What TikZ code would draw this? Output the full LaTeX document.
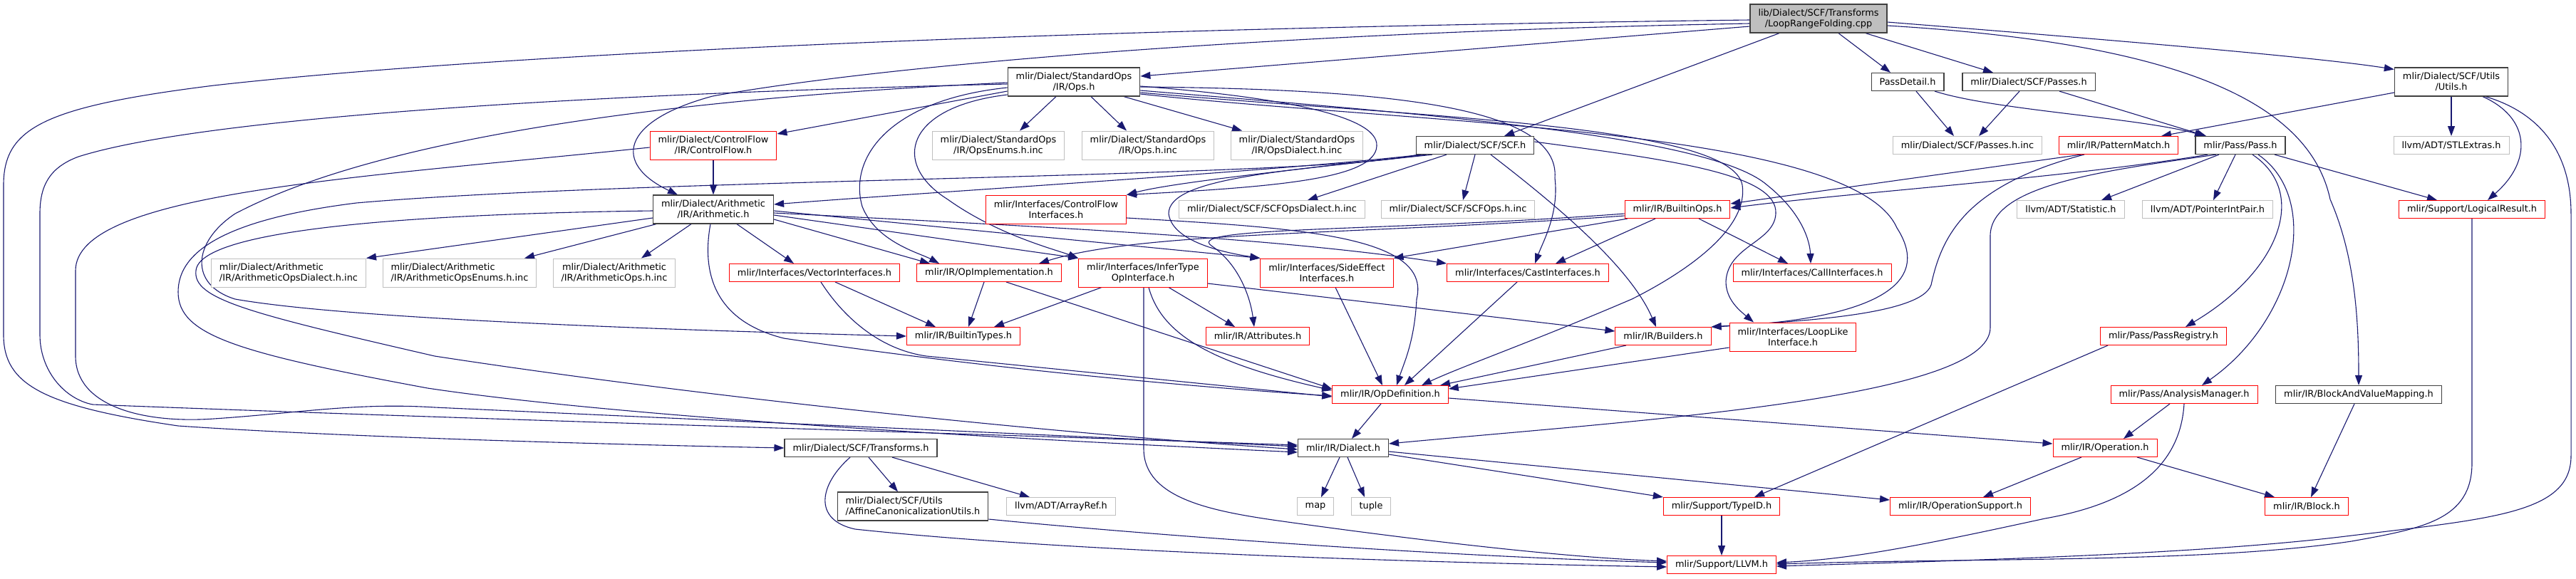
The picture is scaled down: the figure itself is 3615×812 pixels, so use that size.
\documentclass[tikz,border=0pt]{standalone}
\usepackage{fontspec}
\setmainfont{DejaVu Sans}
\usetikzlibrary{arrows.meta,backgrounds}
\definecolor{dgEdge}{HTML}{191970}
\definecolor{dgBorder}{HTML}{404040}
\definecolor{dgRed}{HTML}{FF0000}
\definecolor{dgGray}{HTML}{BFBFBF}
\newcommand{\dgfont}{\fontsize{12.9}{15}\selectfont}

\begin{document}
\begin{tikzpicture}[
    x=1pt, y=-1pt,
    box/.style={draw=dgBorder, line width=1.2pt, fill=white, inner xsep=11.5pt, inner ysep=2pt, minimum height=25pt, align=center, font=\dgfont},
    twoline/.style={minimum height=40pt},
    redbox/.style={box, draw=dgRed, line width=1pt},
    graybox/.style={box, draw=dgGray, line width=1pt},
    rootbox/.style={box, fill=dgGray},
    arrow/.style={-{Triangle[length=14pt, width=10pt]}, line width=1.1pt, dgEdge}
]
    \useasboundingbox (0,0) rectangle (3615,812);

    \node[rootbox, twoline] (lrf) at (2552,26) {lib/Dialect/SCF/Transforms\\/LoopRangeFolding.cpp};
    \node[box, twoline] (stdops) at (1507,115) {mlir/Dialect/StandardOps\\/IR/Ops.h};
    \node[box] (passdetail) at (2677,115) {PassDetail.h};
    \node[box] (scfpasses) at (2847,115) {mlir/Dialect/SCF/Passes.h};
    \node[box, twoline] (utils) at (3440,115) {mlir/Dialect/SCF/Utils\\/Utils.h};
    \node[redbox, twoline] (cflow) at (1001,204) {mlir/Dialect/ControlFlow\\/IR/ControlFlow.h};
    \node[graybox, twoline] (opsenums) at (1401,204) {mlir/Dialect/StandardOps\\/IR/OpsEnums.h.inc};
    \node[graybox, twoline] (opsinc) at (1611,204) {mlir/Dialect/StandardOps\\/IR/Ops.h.inc};
    \node[graybox, twoline] (opsdialect) at (1820,204) {mlir/Dialect/StandardOps\\/IR/OpsDialect.h.inc};
    \node[box] (scf) at (2070,204) {mlir/Dialect/SCF/SCF.h};
    \node[graybox] (passesinc) at (2761,204) {mlir/Dialect/SCF/Passes.h.inc};
    \node[redbox] (pattern) at (2973,204) {mlir/IR/PatternMatch.h};
    \node[box] (pass) at (3144,204) {mlir/Pass/Pass.h};
    \node[graybox] (stlextras) at (3440,204) {llvm/ADT/STLExtras.h};
    \node[box, twoline] (arith) at (1001,294) {mlir/Dialect/Arithmetic\\/IR/Arithmetic.h};
    \node[redbox, twoline] (cfif) at (1482,294) {mlir/Interfaces/ControlFlow\\Interfaces.h};
    \node[graybox] (scfdialect) at (1785,294) {mlir/Dialect/SCF/SCFOpsDialect.h.inc};
    \node[graybox] (scfopsinc) at (2046,294) {mlir/Dialect/SCF/SCFOps.h.inc};
    \node[redbox] (builtinops) at (2354,294) {mlir/IR/BuiltinOps.h};
    \node[graybox] (statistic) at (2906,294) {llvm/ADT/Statistic.h};
    \node[graybox] (ptrintpair) at (3098,294) {llvm/ADT/PointerIntPair.h};
    \node[redbox] (logical) at (3469,294) {mlir/Support/LogicalResult.h};
    \node[graybox, twoline, align=left] (arithdialect) at (405,383) {mlir/Dialect/Arithmetic\\/IR/ArithmeticOpsDialect.h.inc};
    \node[graybox, twoline, align=left] (arithenums) at (645,383) {mlir/Dialect/Arithmetic\\/IR/ArithmeticOpsEnums.h.inc};
    \node[graybox, twoline] (arithopsinc) at (862,383) {mlir/Dialect/Arithmetic\\/IR/ArithmeticOps.h.inc};
    \node[redbox] (vectorif) at (1143,383) {mlir/Interfaces/VectorInterfaces.h};
    \node[redbox] (opimpl) at (1388,383) {mlir/IR/OpImplementation.h};
    \node[redbox, twoline] (infertype) at (1604,383) {mlir/Interfaces/InferType\\OpInterface.h};
    \node[redbox, twoline] (sideeffect) at (1862,383) {mlir/Interfaces/SideEffect\\Interfaces.h};
    \node[redbox] (castif) at (2144,383) {mlir/Interfaces/CastInterfaces.h};
    \node[redbox] (callif) at (2543,383) {mlir/Interfaces/CallInterfaces.h};
    \node[redbox] (builtintypes) at (1352,472) {mlir/IR/BuiltinTypes.h};
    \node[redbox] (attributes) at (1765,472) {mlir/IR/Attributes.h};
    \node[redbox] (builders) at (2334,472) {mlir/IR/Builders.h};
    \node[redbox, twoline] (looplike) at (2516,473) {mlir/Interfaces/LoopLike\\Interface.h};
    \node[redbox] (passreg) at (3036,472) {mlir/Pass/PassRegistry.h};
    \node[redbox] (opdef) at (1951,554) {mlir/IR/OpDefinition.h};
    \node[redbox] (analysis) at (3065,554) {mlir/Pass/AnalysisManager.h};
    \node[box] (bvmap) at (3310,554) {mlir/IR/BlockAndValueMapping.h};
    \node[box] (transforms) at (1208,629) {mlir/Dialect/SCF/Transforms.h};
    \node[box] (dialect) at (1885,629) {mlir/IR/Dialect.h};
    \node[redbox] (operation) at (2954,629) {mlir/IR/Operation.h};
    \node[box, twoline, align=left] (affine) at (1281,711) {mlir/Dialect/SCF/Utils\\/AffineCanonicalizationUtils.h};
    \node[graybox] (arrayref) at (1489,711) {llvm/ADT/ArrayRef.h};
    \node[graybox] (map) at (1846,711) {map};
    \node[graybox] (tuple) at (1924,711) {tuple};
    \node[redbox] (typeid) at (2416,711) {mlir/Support/TypeID.h};
    \node[redbox] (opsupport) at (2751,711) {mlir/IR/OperationSupport.h};
    \node[redbox] (block) at (3237,711) {mlir/IR/Block.h};
    \node[redbox] (llvm) at (2416,793) {mlir/Support/LLVM.h};

    \begin{scope}[on background layer]
    \draw[arrow] ([yshift=-11pt]lrf.west) -- ([yshift=8pt]stdops.east);
    \draw[arrow] ([xshift=28pt]lrf.south) -- ([xshift=-24pt]passdetail.north);
    \draw[arrow] ([xshift=66pt]lrf.south) -- ([xshift=-50pt]scfpasses.north);
    \draw[arrow] ([yshift=-5pt]lrf.east) .. controls (2950,55) and (3250,80) .. ([yshift=-3pt]utils.north west);
    \draw[arrow] ([xshift=-55pt]lrf.south) -- ([xshift=41pt]scf.north);
    \draw[arrow] ([yshift=-7pt]lrf.west) .. controls (1800,45) and (1250,90) .. (1000,135) .. controls (870,170) and (860,230) .. ([xshift=-50pt]arith.north);
    \draw[arrow] ([yshift=-2pt]lrf.west) .. controls (1500,40) and (700,75) .. (300,120) .. controls (60,150) and (5,180) .. (5,260) -- (5,470) .. controls (5,540) and (60,570) .. (250,598) .. controls (500,615) and (900,625) .. (transforms.west);
    \draw[arrow] ([yshift=-10pt]lrf.east) .. controls (3050,60) and (3240,140) .. (3270,280) .. controls (3305,360) and (3310,450) .. (bvmap.north);

    \draw[arrow] ([xshift=12pt]passdetail.south) -- ([xshift=-19pt]passesinc.north);
    \draw[arrow] ([xshift=38pt]passdetail.south) .. controls (2800,155) and (3000,165) .. ([xshift=-50pt]pass.north);
    \draw[arrow] ([xshift=-13pt]scfpasses.south) -- ([xshift=16pt]passesinc.north);
    \draw[arrow] ([xshift=43pt]scfpasses.south) -- ([xshift=-48pt]pass.north);
    \draw[arrow] ([yshift=-15pt]utils.west) -- ([xshift=60pt]pattern.north);
    \draw[arrow] (utils.south) -- (stlextras.north);
    \draw[arrow] ([xshift=44pt]utils.south) .. controls (3550,165) and (3555,225) .. ([xshift=22pt]logical.north);
    \draw[arrow] ([xshift=48pt]utils.south) .. controls (3570,160) and (3608,220) .. (3608,300) -- (3608,640) .. controls (3608,720) and (3500,728) .. (3300,752) .. controls (3100,777) and (2800,786) .. ([yshift=-2pt]llvm.east);

    \draw[arrow] ([yshift=-13pt]stdops.west) -- ([yshift=16pt]cflow.east);
    \draw[arrow] ([xshift=-25pt]stdops.south) -- ([xshift=30pt]opsenums.north);
    \draw[arrow] ([xshift=24pt]stdops.south) -- ([xshift=-30pt]opsinc.north);
    \draw[arrow] ([xshift=70pt]stdops.south) -- ([xshift=-77pt]opsdialect.north);
    \draw[arrow] ([yshift=-6pt]stdops.east) .. controls (1780,135) and (1935,160) .. (1932,205) .. controls (1930,250) and (1800,262) .. (cfif.north east);
    \draw[arrow] ([yshift=-3pt]stdops.west) .. controls (900,130) and (300,160) .. (110,220) .. controls (70,235) and (56,260) .. (56,300) -- (56,470) .. controls (56,520) and (90,560) .. (130,568) .. controls (700,590) and (1400,610) .. ([yshift=4pt]dialect.west);
    \draw[arrow] ([yshift=-1pt]stdops.west) .. controls (900,140) and (520,200) .. (330,300) .. controls (270,340) and (265,400) .. (330,420) .. controls (500,450) and (1000,465) .. (builtintypes.west);
    \draw[arrow] ([yshift=-8pt]stdops.west) .. controls (1250,140) and (1190,220) .. (1210,290) .. controls (1230,340) and (1290,355) .. ([xshift=-70pt]opimpl.north);
    \draw[arrow] ([yshift=-18pt]stdops.west) .. controls (1270,150) and (1250,230) .. (1330,280) .. controls (1400,330) and (1480,350) .. (infertype.north west);
    \draw[arrow] ([yshift=-7pt]stdops.east) .. controls (1950,125) and (2190,150) .. (2182,250) .. controls (2188,300) and (2165,340) .. ([xshift=10pt]castif.north);
    \draw[arrow] ([yshift=-12pt]stdops.east) .. controls (2000,160) and (2400,190) .. (2480,260) .. controls (2530,300) and (2540,340) .. ([xshift=-2pt]callif.north);
    \draw[arrow] ([yshift=-15pt]stdops.east) .. controls (2000,165) and (2430,175) .. (2445,260) .. controls (2455,330) and (2340,395) .. (2290,420) .. controls (2150,480) and (2050,515) .. ([xshift=44pt]opdef.north);
    \draw[arrow] ([yshift=-17pt]stdops.east) .. controls (2000,175) and (2600,180) .. (2662,320) .. controls (2720,410) and (2600,450) .. (builders.north east);

    \draw[arrow] (cflow.south) -- (arith.north);
    \draw[arrow] ([yshift=-3pt]cflow.west) .. controls (500,250) and (106,270) .. (106,380) -- (106,500) .. controls (106,570) and (200,595) .. (300,588) .. controls (420,580) and (500,565) .. (610,572) .. controls (1000,590) and (1500,612) .. ([yshift=2pt]dialect.west);

    \draw[arrow] ([yshift=-12pt]arith.west) -- (arithdialect.north east);
    \draw[arrow] ([xshift=-80pt]arith.south) -- ([xshift=91pt]arithenums.north);
    \draw[arrow] ([xshift=-31pt]arith.south) -- ([xshift=38pt]arithopsinc.north);
    \draw[arrow] ([xshift=33pt]arith.south) -- ([xshift=-29pt]vectorif.north);
    \draw[arrow] ([yshift=-14pt]arith.east) -- ([xshift=-83pt]opimpl.north);
    \draw[arrow] ([yshift=-8pt]arith.east) -- (infertype.north west);
    \draw[arrow] ([yshift=-2pt]arith.east) -- (sideeffect.north west);
    \draw[arrow] ([yshift=-5pt]arith.east) .. controls (1500,320) and (1800,335) .. (castif.north west);
    \draw[arrow] ([xshift=-4pt]arith.south) .. controls (985,380) and (1000,450) .. (1100,475) .. controls (1400,520) and (1700,545) .. ([yshift=-2pt]opdef.west);
    \draw[arrow] ([yshift=-2pt]arith.west) .. controls (600,300) and (280,320) .. (275,380) .. controls (270,420) and (350,440) .. (610,500) .. controls (1000,560) and (1500,610) .. ([yshift=-2pt]dialect.west);

    \draw[arrow] ([xshift=-75pt]scf.south) .. controls (1800,240) and (1300,270) .. ([yshift=7pt]arith.east);
    \draw[arrow] ([xshift=-68pt]scf.south) .. controls (1850,235) and (1650,255) .. (cfif.north east);
    \draw[arrow] ([xshift=-60pt]scf.south) .. controls (1800,240) and (1640,250) .. (1640,300) .. controls (1645,340) and (1720,355) .. (sideeffect.north west);
    \draw[arrow] ([xshift=-80pt]scf.south) .. controls (1850,250) and (900,250) .. (500,285) .. controls (300,310) and (250,360) .. (250,410) .. controls (250,470) and (330,495) .. (600,545) .. controls (900,590) and (1500,620) .. ([yshift=-6pt]dialect.west);
    \draw[arrow] ([xshift=-40pt]scf.south) -- ([xshift=50pt]scfdialect.north);
    \draw[arrow] (scf.south) -- ([xshift=7pt]scfopsinc.north);
    \draw[arrow] ([xshift=22pt]scf.south) .. controls (2200,300) and (2290,380) .. ([xshift=-10pt]builders.north);
    \draw[arrow] ([yshift=5pt]scf.east) .. controls (2350,225) and (2495,245) .. (2492,300) .. controls (2490,340) and (2425,345) .. (2422,395) .. controls (2422,420) and (2440,435) .. ([xshift=-55pt]looplike.north);

    \draw[arrow] ([yshift=-12pt]cfif.east) .. controls (1820,320) and (2010,330) .. (1988,420) .. controls (1985,480) and (1970,510) .. ([xshift=9pt]opdef.north);
    \draw[arrow] ([yshift=-6pt]builtinops.west) .. controls (1950,325) and (1660,318) .. (1700,345) .. controls (1740,372) and (1755,420) .. ([xshift=-5pt]attributes.north);
    \draw[arrow] ([yshift=-9pt]builtinops.west) .. controls (1900,330) and (1600,325) .. ([xshift=70pt]opimpl.north);
    \draw[arrow] ([xshift=-70pt]builtinops.south) -- (sideeffect.north east);
    \draw[arrow] ([xshift=-31pt]builtinops.south) -- ([xshift=39pt]castif.north);
    \draw[arrow] ([xshift=30pt]builtinops.south) -- ([xshift=-34pt]callif.north);
    \draw[arrow] ([xshift=-52pt]pattern.south) -- ([yshift=8pt]builtinops.east);
    \draw[arrow] ([xshift=-48pt]pattern.south) .. controls (2760,260) and (2725,330) .. (2710,400) .. controls (2695,445) and (2500,452) .. (builders.north east);

    \draw[arrow] ([xshift=-46pt]pass.south) .. controls (2900,250) and (2600,270) .. ([yshift=2pt]builtinops.east);
    \draw[arrow] ([xshift=-34pt]pass.south) .. controls (2950,240) and (2795,260) .. (2793,330) -- (2793,460) .. controls (2793,560) and (2300,590) .. ([yshift=6pt]dialect.east);
    \draw[arrow] ([xshift=-30pt]pass.south) -- ([xshift=43pt]statistic.north);
    \draw[arrow] ([xshift=-7pt]pass.south) -- ([xshift=8pt]ptrintpair.north);
    \draw[arrow] ([xshift=48pt]pass.south) -- ([xshift=-49pt]logical.north);
    \draw[arrow] ([xshift=17pt]pass.south) .. controls (3240,270) and (3200,380) .. ([xshift=31pt]passreg.north);
    \draw[arrow] ([xshift=25pt]pass.south) .. controls (3260,280) and (3220,450) .. ([xshift=25pt]analysis.north);

    \draw[arrow] ([xshift=-7pt]opimpl.south) -- ([xshift=7pt]builtintypes.north);
    \draw[arrow] ([xshift=24pt]opimpl.south) -- ([yshift=8pt]opdef.west);
    \draw[arrow] ([xshift=29pt]vectorif.south) -- ([xshift=-39pt]builtintypes.north);
    \draw[arrow] ([xshift=9pt]vectorif.south) .. controls (1180,440) and (1230,490) .. (1300,500) .. controls (1500,520) and (1750,545) .. ([yshift=-3pt]opdef.west);
    \draw[arrow] ([xshift=-58pt]infertype.south) -- ([xshift=43pt]builtintypes.north);
    \draw[arrow] ([xshift=36pt]infertype.south) -- ([xshift=-32pt]attributes.north);
    \draw[arrow] ([yshift=-15pt]infertype.east) -- ([yshift=7pt]builders.west);
    \draw[arrow] ([xshift=8pt]infertype.south) .. controls (1630,470) and (1700,510) .. ([yshift=6pt]opdef.west);
    \draw[arrow] ([xshift=1pt]infertype.south) -- (1605,630) .. controls (1605,700) and (1700,718) .. (1800,732) .. controls (2000,760) and (2200,783) .. ([yshift=5pt]llvm.west);
    \draw[arrow] ([xshift=12pt]sideeffect.south) -- ([xshift=-11pt]opdef.north);
    \draw[arrow] ([xshift=-15pt]castif.south) -- ([xshift=20pt]opdef.north);
    \draw[arrow] ([xshift=-52pt]builders.south) -- ([xshift=70pt]opdef.north);
    \draw[arrow] ([yshift=-15pt]looplike.west) -- ([yshift=8pt]opdef.east);

    \draw[arrow] ([xshift=-78pt]passreg.south) -- ([xshift=46pt]typeid.north);
    \draw[arrow] ([xshift=-20pt]analysis.south) -- ([xshift=26pt]operation.north);
    \draw[arrow] (analysis.south) .. controls (3060,650) and (3000,705) .. (2870,728) .. controls (2700,765) and (2600,785) .. ([yshift=3pt]llvm.east);
    \draw[arrow] ([xshift=-6pt]bvmap.south) -- ([xshift=6pt]block.north);
    \draw[arrow] (logical.south) -- (logical.south |- 0,650) .. controls (3469,730) and (3400,742) .. (3300,760) .. controls (3100,790) and (2800,783) .. ([yshift=1pt]llvm.east);

    \draw[arrow] ([yshift=-5pt]opdef.east) -- ([yshift=6pt]operation.west);
    \draw[arrow] ([xshift=-13pt]opdef.south) -- ([xshift=12pt]dialect.north);
    \draw[arrow] ([xshift=-33pt]operation.south) -- ([xshift=32pt]opsupport.north);
    \draw[arrow] ([xshift=45pt]operation.south) -- ([xshift=-45pt]block.north);
    \draw[arrow] ([xshift=-5pt]dialect.south) -- ([xshift=8pt]map.north);
    \draw[arrow] ([xshift=6pt]dialect.south) -- ([xshift=-9pt]tuple.north);
    \draw[arrow] ([yshift=-9pt]dialect.east) -- (typeid.north west);
    \draw[arrow] ([yshift=-5pt]dialect.east) -- ([yshift=9pt]opsupport.west);
    \draw[arrow] (typeid.south) -- (llvm.north);

    \draw[arrow] ([xshift=11pt]transforms.south) -- ([xshift=-21pt]affine.north);
    \draw[arrow] ([xshift=44pt]transforms.south) -- ([xshift=-44pt]arrayref.north);
    \draw[arrow] ([xshift=-15pt]transforms.south) .. controls (1150,680) and (1140,730) .. (1200,743) .. controls (1500,775) and (2000,790) .. ([yshift=-3pt]llvm.west);
    \draw[arrow] ([yshift=-18pt]affine.east) .. controls (1600,750) and (2000,780) .. ([yshift=3pt]llvm.west);
    \end{scope}
\end{tikzpicture}
\end{document}
